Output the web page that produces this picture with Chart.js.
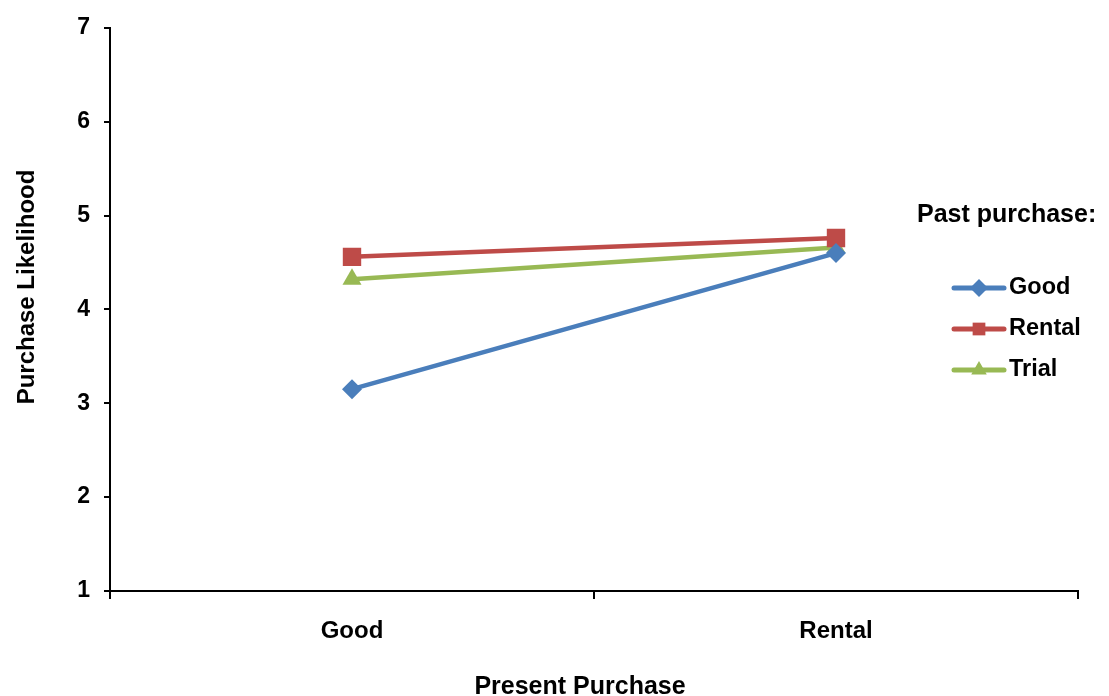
<!DOCTYPE html>
<html>
<head>
<meta charset="utf-8">
<script src="https://cdn.jsdelivr.net/npm/chart.js@4.4.0/dist/chart.umd.min.js"></script>
<style>
  html, body { margin: 0; padding: 0; background: #fff; }
  #wrap { width: 1109px; height: 696px; position: relative; }
</style>
</head>
<body>
<div id="wrap"><canvas id="c" width="1109" height="696"></canvas></div>
<script>
const categories = ['Good', 'Rental'];
const seriesNames = ['Good', 'Rental', 'Trial'];
const goodValues = [3.15, 4.60];
const rentalValues = [4.56, 4.76];
const trialValues = [4.32, 4.66];
const yTicks = [1, 2, 3, 4, 5, 6, 7];
const xTitle = 'Present Purchase';
const yTitle = 'Purchase Likelihood';
const legendTitle = 'Past purchase:';

const colors = ['#4A7EBB', '#BE4B48', '#98B954'];
const styles = ['rectRot', 'rect', 'triangle'];
const radii = [10, 13, 11];
const FONT = '"Liberation Sans", Arial, sans-serif';

const datasets = [goodValues, rentalValues, trialValues].map((vals, i) => ({
  label: seriesNames[i],
  data: vals,
  borderColor: colors[i],
  backgroundColor: colors[i],
  borderWidth: 4.5,
  pointStyle: styles[i],
  pointRadius: radii[i],
  pointHoverRadius: radii[i],
  pointBorderWidth: 0,
  tension: 0
}));

const customPlugin = {
  id: 'custom',
  afterDraw(chart) {
    const ctx = chart.ctx;
    ctx.save();
    ctx.fillStyle = '#000';
    // X axis title
    ctx.font = 'bold 25px ' + FONT;
    ctx.textAlign = 'center';
    ctx.textBaseline = 'middle';
    ctx.fillText(xTitle, 580, 687);
    // Y axis title
    ctx.font = 'bold 24px ' + FONT;
    ctx.translate(27, 287);
    ctx.rotate(-Math.PI / 2);
    ctx.fillText(yTitle, 0, 0);
    ctx.restore();

    // Legend
    ctx.save();
    ctx.fillStyle = '#000';
    ctx.font = 'bold 25px ' + FONT;
    ctx.textAlign = 'left';
    ctx.textBaseline = 'middle';
    ctx.fillText(legendTitle, 917, 215);
    chart.data.datasets.forEach((ds, i) => {
      const y = 288 + i * 41;
      ctx.strokeStyle = ds.borderColor;
      ctx.lineWidth = 5;
      ctx.lineCap = 'round';
      ctx.beginPath();
      ctx.moveTo(954, y);
      ctx.lineTo(1004, y);
      ctx.stroke();
      ctx.fillStyle = ds.backgroundColor;
      Chart.helpers.drawPoint(ctx, {pointStyle: ds.pointStyle, radius: 9, rotation: 0, borderWidth: 0}, 979, y);
      ctx.fillStyle = '#000';
      ctx.font = 'bold 23.5px ' + FONT;
      ctx.fillText(ds.label, 1009, y);
    });
    ctx.restore();
  }
};

new Chart(document.getElementById('c'), {
  type: 'line',
  data: { labels: categories, datasets },
  options: {
    responsive: false,
    animation: false,
    events: [],
    layout: { padding: { left: 0, right: 31, top: 26, bottom: 0 } },
    plugins: { legend: { display: false }, tooltip: { enabled: false } },
    scales: {
      x: {
        offset: true,
        border: { color: '#000', width: 2 },
        grid: { offset: true, drawOnChartArea: false, drawTicks: true, tickLength: 8, color: '#000', lineWidth: 2 },
        ticks: { color: '#000', font: { family: FONT, size: 24, weight: 'bold' }, padding: 18, maxRotation: 0 },
        afterFit(scale) { scale.height = 105; }
      },
      y: {
        min: 1, max: 7,
        border: { color: '#000', width: 2 },
        grid: { drawOnChartArea: false, drawTicks: true, tickLength: 6, color: '#000', lineWidth: 2 },
        afterBuildTicks(scale) { scale.ticks = yTicks.map(v => ({ value: v })); },
        ticks: { color: '#000', font: { family: FONT, size: 23, weight: 'bold' }, padding: 14 },
        afterFit(scale) { scale.width = 110; }
      }
    }
  },
  plugins: [customPlugin]
});
</script>
</body>
</html>
